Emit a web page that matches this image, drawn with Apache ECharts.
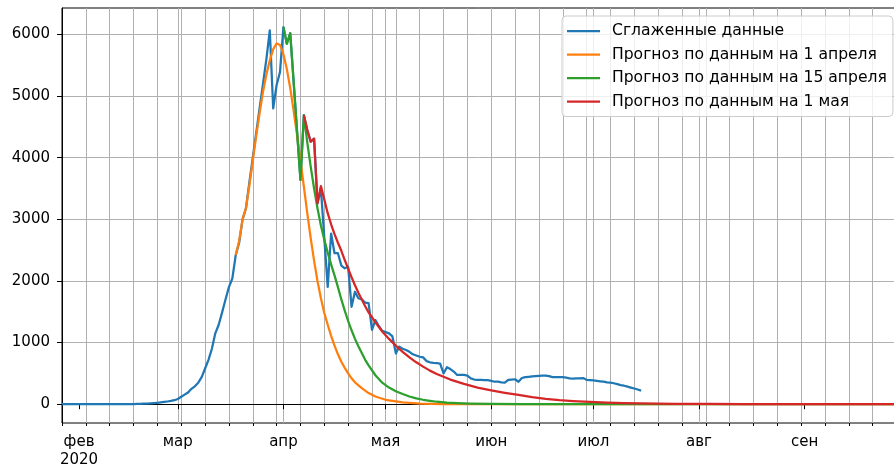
<!DOCTYPE html>
<html>
<head>
<meta charset="utf-8">
<script src="https://cdn.jsdelivr.net/npm/echarts@6/dist/echarts.min.js"></script>
<style>html,body{margin:0;padding:0;background:#fff}#c{width:894px;height:470px}</style>
</head>
<body>
<div id="c"></div>
<script>
// ---------- data ----------
const startDate = '2020-01-27';
const endDate = '2020-09-29';
const monthNames = ['янв','фев','мар','апр','мая','июн','июл','авг','сен','окт','ноя','дек'];
const yTicks = [0, 1000, 2000, 3000, 4000, 5000, 6000];
const seriesNames = ['Сглаженные данные', 'Прогноз по данным на 1 апреля', 'Прогноз по данным на 15 апреля', 'Прогноз по данным на 1 мая'];
const seriesColors = ['#1f77b4', '#ff7f0e', '#2ca02c', '#d62728'];

// smoothed daily data, starting 2020-01-27
const blueStart = '2020-01-27';
const blueValues = [
  0,0,0,0,0,0,0,0,0,0,0,0,0,0,0,0,0,0,
  1,1,2,3,4,6,8,11,14,18,23,29,36,44,53,65,
  85,120,155,190,250,290,350,440,580,720,900,1150,1290,1490,1700,1900,2040,2420,
  2620,3000,3180,3600,4000,4400,4800,5200,5600,6065,4800,5180,5390,
  6120,5850,6020,5230,4430,3640,
  4690,4450,4260,4310,3260,3500,
  2700,1905,2770,2450,2450,2250,2205,2230,1580,1825,1720,1700,1650,1640,
  1205,1365,1270,1190,1170,1150,1100,825,935,900,
  880,850,810,790,770,760,700,680,670,665,
  660,500,600,570,530,475,475,475,465,420,
  400,395,395,390,390,380,365,365,355,350,
  395,400,405,365,425,440,445,450,455,460,
  462,465,455,440,440,440,440,430,420,415,
  418,420,425,395,390,385,380,372,365,355,
  350,340,325,310,300,285,270,255,238,220
];

const orangeDates = ['2020-03-18','2020-03-19','2020-03-20','2020-03-21','2020-03-22','2020-03-23','2020-03-24','2020-03-25','2020-03-26','2020-03-27','2020-03-28','2020-03-29','2020-03-30','2020-03-31',
  '2020-04-01','2020-04-02','2020-04-03','2020-04-04','2020-04-05','2020-04-06','2020-04-07','2020-04-08','2020-04-09','2020-04-10','2020-04-11','2020-04-12','2020-04-13','2020-04-14','2020-04-15','2020-04-16','2020-04-17','2020-04-18','2020-04-19','2020-04-20','2020-04-21','2020-04-22','2020-04-24','2020-04-26','2020-04-28',
  '2020-05-01','2020-05-06','2020-05-11','2020-05-18','2020-05-31','2020-09-29'];
const orangeValues = [2420,2650,3000,3180,3550,3950,4350,4720,5070,5350,5580,5760,5855,5830,
  5680,5440,5130,4760,4370,3960,3530,3100,2700,2330,2000,1720,1480,1290,1110,950,810,690,590,500,420,355,260,180,125,
  72,30,10,2,0,0];

const greenDates = ['2020-04-01','2020-04-02','2020-04-03','2020-04-04','2020-04-05','2020-04-06','2020-04-07','2020-04-08','2020-04-09','2020-04-10','2020-04-11','2020-04-12','2020-04-13','2020-04-14','2020-04-15','2020-04-16','2020-04-17','2020-04-18','2020-04-19','2020-04-20','2020-04-21','2020-04-22','2020-04-23','2020-04-24','2020-04-25','2020-04-26','2020-04-28','2020-04-30',
  '2020-05-02','2020-05-04','2020-05-06','2020-05-08','2020-05-10','2020-05-12','2020-05-14','2020-05-16','2020-05-19','2020-05-22','2020-05-26','2020-06-01','2020-06-10','2020-06-25','2020-09-29'];
const greenValues = [6120,5850,6020,5230,4430,3640,4690,4250,3860,3500,3180,2900,2670,2460,2270,2090,1900,1700,1520,1350,1200,1060,940,830,720,630,470,350,
  270,210,165,125,95,72,55,40,27,18,10,4,1,0,0];

const redDates = ['2020-04-07','2020-04-08','2020-04-09','2020-04-10','2020-04-11','2020-04-12','2020-04-13','2020-04-14','2020-04-15','2020-04-16','2020-04-17','2020-04-18','2020-04-19','2020-04-20','2020-04-21','2020-04-22','2020-04-23','2020-04-24','2020-04-25','2020-04-26','2020-04-28','2020-04-30',
  '2020-05-02','2020-05-04','2020-05-06','2020-05-08','2020-05-10','2020-05-12','2020-05-14','2020-05-16','2020-05-20','2020-05-24','2020-05-28',
  '2020-06-01','2020-06-05','2020-06-09','2020-06-13','2020-06-17','2020-06-21','2020-06-25','2020-06-30',
  '2020-07-05','2020-07-10','2020-07-15','2020-07-25','2020-08-04','2020-08-14','2020-08-29','2020-09-29'];
const redValues = [4690,4450,4260,4310,3260,3540,3320,3100,2920,2760,2620,2490,2340,2200,2060,1930,1810,1700,1590,1490,1330,1180,
  1060,950,850,760,680,610,545,490,400,330,270,
  225,185,150,115,88,66,50,36,
  26,18,13,7,4,2,1,0];

// ---------- build ----------
const categories = [];
for (let d = Date.parse(startDate + 'T00:00:00Z'); d <= Date.parse(endDate + 'T00:00:00Z'); d += 86400000) {
  categories.push(new Date(d).toISOString().slice(0, 10));
}
const blueOffset = categories.indexOf(blueStart);
const blueData = blueValues.map((v, i) => [categories[blueOffset + i], v]);
const pair = (ds, vs) => ds.map((d, i) => [d, vs[i]]);
const isMonthStart = (idx, val) => val.slice(8, 10) === '01';
const isMonday = (idx, val) => new Date(val + 'T00:00:00Z').getUTCDay() === 1;
const firstMonthStart = categories.find(v => v.slice(8, 10) === '01');

const FONT = 'DejaVu Sans';
const grid = { left: 62, top: 8, width: 838, bottom: 47, show: true, borderColor: '#000', borderWidth: 1, backgroundColor: 'transparent', containLabel: false, outerBoundsMode: 'none' };

const mkSeries = (name, color, data) => ({
  name, type: 'line', data, showSymbol: false, symbol: 'none', xAxisIndex: 0, yAxisIndex: 0,
  lineStyle: { color, width: 2.25, join: 'round' }, itemStyle: { color }, emphasis: { disabled: true }
});

const chart = echarts.init(document.getElementById('c'), null, { renderer: 'canvas' });
chart.setOption({
  animation: false,
  grid,
  legend: {
    orient: 'vertical', left: 562, top: 16,
    data: seriesNames,
    icon: 'rect', itemWidth: 33, itemHeight: 2.25, itemGap: 5.5,
    backgroundColor: 'rgba(255,255,255,0.8)', borderColor: '#cccccc', borderWidth: 1, borderRadius: 4,
    padding: [6, 6, 6, 5],
    textStyle: { fontFamily: FONT, fontSize: 15.6, color: '#000', lineHeight: 18, padding: [0, 0, 0, 7] },
    selectedMode: false
  },
  xAxis: [
    {
      type: 'category', data: categories, boundaryGap: false, position: 'bottom',
      axisLine: { show: true, lineStyle: { color: '#000', width: 1 } },
      axisTick: { show: true, interval: isMonthStart, length: 5, lineStyle: { color: '#000', width: 1 } },
      axisLabel: {
        show: true, interval: isMonthStart, margin: 10, fontFamily: FONT, fontSize: 15, color: '#000', lineHeight: 18,
        hideOverlap: false,
        formatter: (val) => {
          const m = monthNames[parseInt(val.slice(5, 7), 10) - 1];
          return val === firstMonthStart ? m + '\n' + val.slice(0, 4) : m;
        }
      },
      splitLine: { show: true, interval: isMonthStart, showMinLine: false, showMaxLine: false, lineStyle: { color: '#b0b0b0', width: 1 } }
    },
    {
      type: 'category', data: categories, boundaryGap: false, position: 'bottom', offset: 0,
      axisLine: { show: false },
      axisTick: { show: true, interval: isMonday, length: 3, lineStyle: { color: '#000', width: 1 } },
      axisLabel: { show: false },
      splitLine: { show: true, interval: isMonday, showMinLine: false, showMaxLine: false, lineStyle: { color: '#b0b0b0', width: 1 } }
    }
  ],
  yAxis: {
    type: 'value', min: -305, max: 6430,
    axisLine: { show: true, lineStyle: { color: '#000', width: 1 } },
    axisTick: { show: true, customValues: yTicks, length: 5, lineStyle: { color: '#000', width: 1 } },
    axisLabel: { show: true, customValues: yTicks, margin: 12, fontFamily: FONT, fontSize: 15, color: '#000', formatter: (v) => String(v) },
    splitLine: { show: true, lineStyle: { color: '#b0b0b0', width: 1 } }
  },
  series: [
    mkSeries(seriesNames[0], seriesColors[0], blueData),
    mkSeries(seriesNames[1], seriesColors[1], pair(orangeDates, orangeValues)),
    mkSeries(seriesNames[2], seriesColors[2], pair(greenDates, greenValues)),
    mkSeries(seriesNames[3], seriesColors[3], pair(redDates, redValues))
  ]
});
</script>
</body>
</html>
